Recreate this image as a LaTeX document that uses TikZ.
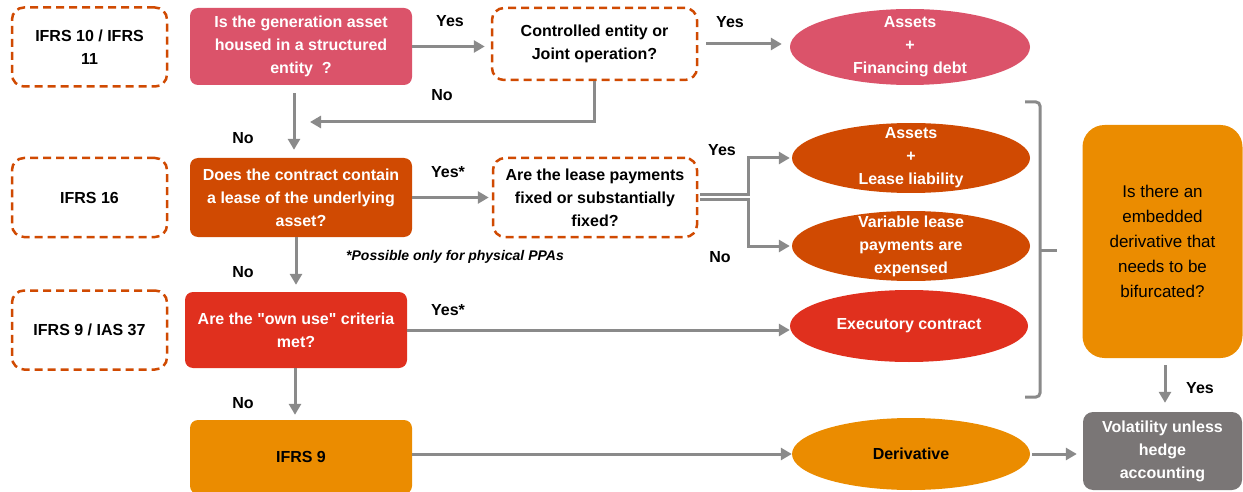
\documentclass[tikz,border=0pt]{standalone}
\usepackage{fontspec}
\setmainfont{Liberation Sans}
\usetikzlibrary{arrows.meta}
\usetikzlibrary{shapes.geometric}
\definecolor{pwcrose}{HTML}{DB536A}
\definecolor{pwcorange}{HTML}{D04A02}
\definecolor{pwcred}{HTML}{E0301E}
\definecolor{pwctangerine}{HTML}{EB8C00}
\definecolor{pwcgrey}{HTML}{7A7676}
\definecolor{flowgrey}{HTML}{8A8A8A}
\newcommand\flowfont{\fontsize{16}{23}\selectfont\bfseries}
\tikzset{lawbox/.style = {draw = pwcorange, line width = 2.5pt, dash pattern = on 8pt off 5pt,
                          rounded corners = 12pt, minimum width = 155pt, minimum height = 79pt,
                          align = center, font = \flowfont}}
\tikzset{qbox/.style = {rounded corners = 8pt, minimum width = 222pt, align = center,
                        text = white, font = \flowfont}}
\tikzset{outcome/.style = {ellipse, minimum width = 238pt, minimum height = 71pt, inner sep = 0}}
\tikzset{outtext/.style = {align = center, text = white, font = \flowfont}}
\tikzset{flowlabel/.style = {font = \flowfont}}
\tikzset{flow/.style = {draw = flowgrey, line width = 3pt, -{Triangle[length = 11pt, width = 12pt]}}}

\begin{document}
\begin{tikzpicture}[x = 1pt, y = -1pt]
    \useasboundingbox (0, 0) rectangle (1243, 492);

    % standards column
    \node [lawbox] (ifrsten) at (89.5, 47) {IFRS 10 / IFRS\\11};
    \node [lawbox] (ifrssixteen) at (89.5, 197.5) {IFRS 16};
    \node [lawbox] (ifrsnine) at (89.5, 330) {IFRS 9 / IAS 37};

    % questions
    \node [qbox, fill = pwcrose, minimum height = 77pt] (housed) at (301, 46.5)
        {Is the generation asset\\housed in a structured\\entity\ \ ?};
    \node [qbox, fill = pwcorange, minimum height = 79pt] (lease) at (301, 197.5)
        {Does the contract contain\\a lease of the underlying\\asset?};
    \node [qbox, fill = pwcred, minimum height = 76pt] (ownuse) at (296, 330)
        {Are the \textquotedbl own use\textquotedbl{} criteria\\met?};
    \node [qbox, fill = pwctangerine, minimum height = 74pt, text = black] (ifrsninebox) at (301, 457)
        {IFRS 9};
    \node [lawbox, minimum width = 205pt, minimum height = 72pt] (controlled) at (594.5, 44)
        {Controlled entity or\\Joint operation?};
    \node [lawbox, minimum width = 204pt] (fixed) at (595, 197.5)
        {Are the lease payments\\fixed or substantially\\fixed?};

    % outcomes
    \node [outcome, fill = pwcrose, minimum width = 240pt, minimum height = 76pt] (debt) at (910, 47) {};
    \node [outtext] at (debt) {Assets\\+\\Financing debt};
    \node [outcome, fill = pwcorange, minimum height = 70pt] (leaseliab) at (911, 158) {};
    \node [outtext] at (leaseliab) {Assets\\+\\Lease liability};
    \node [outcome, fill = pwcorange, minimum height = 70pt] (variable) at (911, 246) {};
    \node [outtext] at (variable) {Variable lease\\payments are\\expensed};
    \node [outcome, fill = pwcred, minimum height = 72pt] (executory) at (909, 326) {};
    \node [outtext] at (executory) {Executory contract};
    \node [outcome, fill = pwctangerine, minimum height = 72pt] (derivative) at (911, 454) {};
    \node [outtext, text = black] at (derivative) {Derivative};

    \node [fill = pwctangerine, rounded corners = 22pt, minimum width = 160pt, minimum height = 233pt,
           align = center, font = \fontsize{17}{25}\selectfont] (embedded) at (1162.5, 241.5)
        {Is there an\\embedded\\derivative that\\needs to be\\bifurcated?};
    \node [qbox, fill = pwcgrey, minimum width = 159pt, minimum height = 78pt, rounded corners = 10pt]
        (volatility) at (1162.5, 451) {Volatility unless\\hedge\\accounting};

    \node [font = \fontsize{14}{16}\selectfont\bfseries\itshape] (ppanote) at (455, 257)
        {*Possible only for physical PPAs};

    % connectors
    \coordinate (nomerge) at (310, 122);
    \draw [flow, shorten > = 6pt] (housed.east) -- (housed.east -| controlled.west);
    \draw [flow, shorten < = 8pt, shorten > = 8pt] (controlled.east) -- (controlled.east -| debt.west);
    \draw [flow] (controlled.south) |- (nomerge);
    \draw [flow, shorten < = 8pt, shorten > = 8pt] ([xshift = -7pt]housed.south) -- ([xshift = -7pt]lease.north);
    \draw [flow, shorten > = 3pt] (lease.east) -- (fixed.west);
    \draw [flow, shorten < = 2pt, shorten > = 2pt] ([yshift = 2.5pt]fixed.east) -- ++(50, 0) |- (leaseliab.west);
    \draw [flow, shorten < = 2pt, shorten > = 2pt] ([yshift = -2.5pt]fixed.east) -- ++(50, 0) |- (variable.west);
    \draw [flow, shorten > = 7pt] ([xshift = -5pt]lease.south) -- (ownuse.north);
    \draw [flow, shorten > = 5pt] ([xshift = -1pt]ownuse.south) -- ([xshift = -6pt]ifrsninebox.north);
    \draw [flow] (ownuse.east) -- (ownuse.east -| executory.west);
    \draw [flow] (ifrsninebox.east |- derivative) -- (derivative.west);
    \draw [flow, shorten < = 2pt, shorten > = 6pt] (derivative.east) -- (derivative.east -| volatility.west);
    \draw [flow, shorten < = 7pt, shorten > = 9pt] ([xshift = 2.5pt]embedded.south) -- ([xshift = 2.5pt]volatility.north);

    % bracket
    \draw [flowgrey, line width = 3pt, rounded corners = 4pt] (1025, 102) -- (1040, 102) -- (1040, 397) -- (1025, 397);
    \draw [flowgrey, line width = 3pt] (1040, 250) -- (1057, 250);

    % labels
    \node [flowlabel] (yeshoused) at (450, 21) {Yes};
    \node [flowlabel] (yescontrolled) at (730, 22) {Yes};
    \node [flowlabel] (nocontrolled) at (442, 95) {No};
    \node [flowlabel] (nohoused) at (243, 138) {No};
    \node [flowlabel] (yeslease) at (448, 172) {Yes*};
    \node [flowlabel] (yesfixed) at (722, 150) {Yes};
    \node [flowlabel] (nofixed) at (720, 257) {No};
    \node [flowlabel] (nolease) at (243, 272) {No};
    \node [flowlabel] (yesownuse) at (448, 310) {Yes*};
    \node [flowlabel] (noownuse) at (243, 403) {No};
    \node [flowlabel] (yesembedded) at (1200, 388) {Yes};
\end{tikzpicture}
\end{document}
